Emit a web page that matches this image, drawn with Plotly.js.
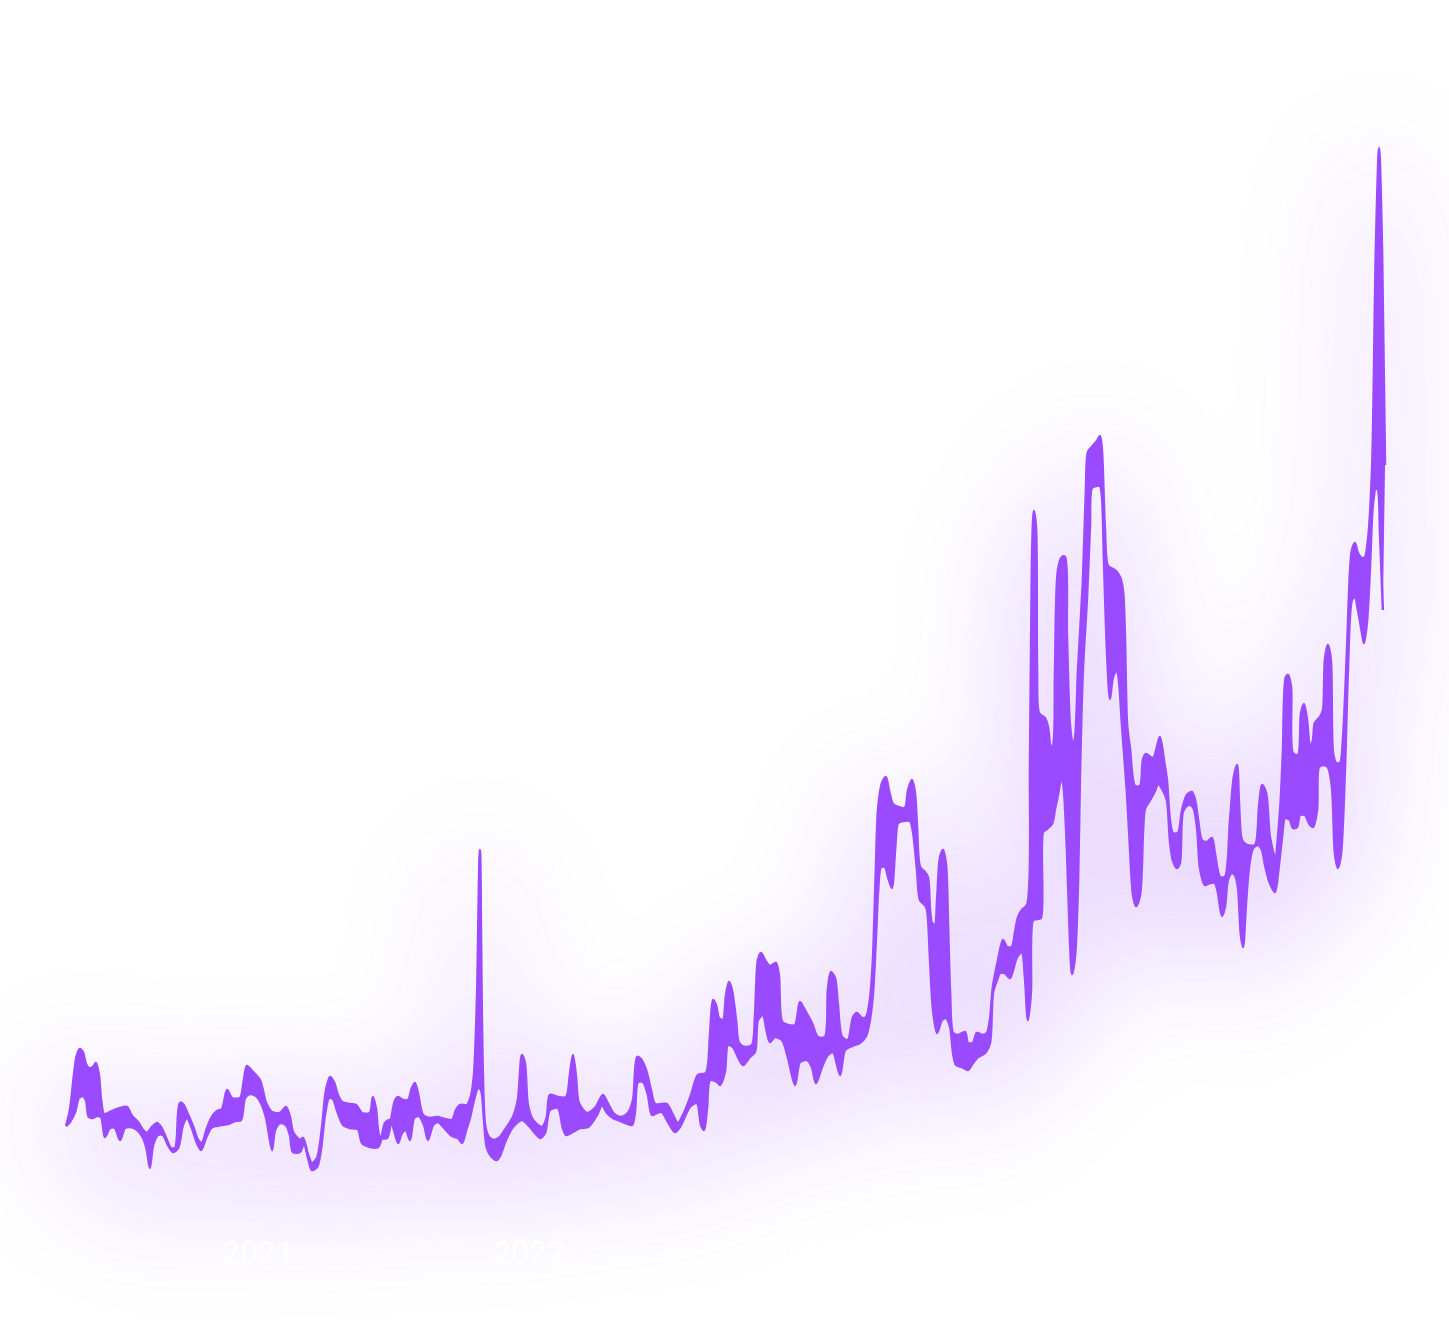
<!DOCTYPE html>
<html>
<head>
<meta charset="utf-8">
<script src="https://cdn.plot.ly/plotly-3.0.1.min.js"></script>
<style>
  html, body { margin: 0; padding: 0; background: #ffffff; }
  #wrap { position: relative; width: 1449px; height: 1344px; overflow: hidden; background: #ffffff; }
  #glow, #chart { position: absolute; left: 0; top: 0; width: 1449px; height: 1344px; }
  #glow { filter: blur(60px); opacity: 0.22; transform: translateY(30px); }
</style>
</head>
<body>
<div id="wrap">
  <div id="glow"></div>
  <div id="chart"></div>
</div>
<script>
// Upper boundary of the band: [decimal year, value]
const upperBand = [
[2020.292,7.4],[2020.306,9.0],[2020.321,12.5],[2020.332,14.5],[2020.343,15.1],[2020.354,14.8],[2020.365,13.6],[2020.376,13.2],[2020.391,13.3],[2020.402,13.7],
[2020.413,12.5],[2020.421,10.0],[2020.432,8.6],[2020.454,8.8],[2020.480,9.1],[2020.506,9.3],[2020.517,9.3],[2020.535,8.4],[2020.557,7.8],[2020.576,7.0],
[2020.590,6.7],[2020.609,7.3],[2020.627,7.7],[2020.642,7.3],[2020.661,6.2],[2020.679,5.2],[2020.694,5.2],[2020.705,8.5],[2020.712,9.7],[2020.723,9.6],
[2020.738,8.8],[2020.760,7.4],[2020.779,6.0],[2020.793,5.7],[2020.812,7.2],[2020.830,8.3],[2020.849,8.9],[2020.867,9.1],[2020.886,11.0],[2020.904,10.2],
[2020.934,10.2],[2020.948,12.0],[2020.959,13.4],[2020.978,12.9],[2021.007,12.0],
[2021.030,9.7],[2021.052,8.8],[2021.081,8.7],[2021.103,9.3],[2021.118,8.3],[2021.129,6.8],[2021.155,6.0],[2021.166,6.2],[2021.185,4.5],[2021.199,3.7],
[2021.218,4.2],[2021.236,7.2],[2021.251,11.0],[2021.266,12.3],[2021.280,11.8],[2021.295,10.5],[2021.310,9.8],[2021.339,9.6],[2021.362,9.5],[2021.384,8.7],
[2021.413,8.7],[2021.424,10.3],[2021.435,9.2],[2021.450,6.3],[2021.476,6.2],[2021.491,8.0],[2021.506,10.0],[2021.517,10.3],[2021.535,10.0],[2021.554,10.0],
[2021.568,11.2],[2021.579,11.7],[2021.590,10.7],[2021.609,8.5],[2021.635,8.2],[2021.661,8.3],[2021.690,8.1],[2021.716,8.0],[2021.731,9.0],[2021.745,9.5],
[2021.771,9.5],[2021.786,10.4],[2021.797,12.5],[2021.808,20.0],[2021.819,35.0],[2021.838,7.5],[2021.852,6.3],[2021.871,6.0],[2021.893,6.3],[2021.911,7.0],
[2021.941,8.3],[2021.959,10.0],[2021.974,14.5],[2021.985,13.7],[2021.996,9.5],[2022.015,8.0],[2022.048,7.3],[2022.066,8.3],[2022.077,10.5],[2022.107,10.3],
[2022.137,10.3],[2022.151,12.5],[2022.162,14.5],[2022.173,12.5],[2022.184,9.7],[2022.214,8.7],[2022.244,9.2],[2022.273,10.5],[2022.292,9.6],[2022.314,8.6],
[2022.339,8.3],[2022.365,8.7],[2022.384,10.0],[2022.399,14.3],[2022.413,14.1],[2022.432,13.0],[2022.450,11.0],[2022.465,9.6],[2022.491,9.6],[2022.509,9.6],
[2022.531,8.5],[2022.550,7.7],[2022.572,8.7],[2022.598,10.5],[2022.624,12.5],[2022.653,12.7],[2022.668,16.5],[2022.679,20.0],[2022.690,19.5],[2022.701,18.2],
[2022.716,18.0],[2022.727,20.5],[2022.738,21.8],[2022.749,21.0],[2022.764,18.0],[2022.775,15.7],[2022.797,15.3],[2022.823,15.5],[2022.834,18.5],[2022.845,24.0],
[2022.856,24.7],[2022.871,24.0],[2022.889,23.4],[2022.911,23.7],[2022.922,22.5],[2022.934,17.8],[2022.956,17.5],[2022.982,17.5],[2023.000,19.8],[2023.018,19.0],
[2023.044,17.7],[2023.066,16.3],[2023.092,16.3],[2023.103,21.0],[2023.114,22.8],[2023.129,22.2],[2023.140,19.5],[2023.155,16.3],[2023.177,16.0],[2023.196,18.3],
[2023.210,18.7],[2023.229,18.2],[2023.244,18.3],[2023.258,20.0],[2023.269,24.0],[2023.280,33.0],[2023.288,39.0],[2023.303,41.7],[2023.317,42.3],[2023.328,41.0],
[2023.343,39.6],[2023.362,39.3],[2023.387,39.2],[2023.399,41.0],[2023.413,42.0],[2023.424,40.8],[2023.432,37.3],[2023.443,33.3],[2023.461,32.8],[2023.472,32.3],
[2023.480,29.0],[2023.487,27.7],[2023.498,27.5],[2023.506,30.0],[2023.517,34.3],[2023.528,35.0],[2023.539,33.5],[2023.546,28.0],[2023.554,20.7],[2023.565,16.7],
[2023.583,16.5],[2023.609,16.8],[2023.620,15.7],[2023.638,15.7],[2023.653,16.7],[2023.675,16.5],[2023.690,16.7],[2023.701,18.0],[2023.712,21.3],[2023.731,24.0],
[2023.749,26.0],[2023.764,25.3],[2023.782,25.3],[2023.793,26.7],[2023.804,28.2],[2023.819,29.0],[2023.838,29.5],[2023.849,44.0],[2023.856,64.0],[2023.863,68.9],
[2023.871,67.3],[2023.875,53.0],[2023.882,48.7],[2023.904,48.2],[2023.915,47.3],[2023.926,45.3],[2023.934,45.5],[2023.941,53.0],[2023.952,63.0],[2023.967,64.3],
[2023.978,64.3],[2023.985,56.6],[2023.996,47.6],[2024.007,45.5],[2024.015,46.2],[2024.026,53.0],[2024.044,61.9],[2024.055,70.9],[2024.063,74.8],[2024.077,75.3],
[2024.096,75.9],[2024.107,76.4],[2024.114,75.1],[2024.125,67.3],[2024.137,63.4],[2024.162,63.0],[2024.181,62.3],[2024.192,60.9],[2024.199,56.6],[2024.207,47.6],
[2024.218,45.1],[2024.236,41.4],[2024.255,41.4],[2024.266,44.1],[2024.277,44.6],[2024.303,44.2],[2024.328,46.3],[2024.343,44.0],[2024.354,42.0],[2024.365,38.0],
[2024.376,36.7],[2024.395,36.7],[2024.410,39.0],[2024.428,40.5],[2024.446,40.8],[2024.458,40.0],[2024.469,38.0],[2024.483,36.0],[2024.502,35.8],[2024.520,36.2],
[2024.531,34.7],[2024.550,32.3],[2024.568,32.3],[2024.587,38.0],[2024.601,42.3],[2024.613,43.5],[2024.620,39.7],[2024.631,36.0],[2024.649,35.5],[2024.679,35.5],
[2024.694,39.3],[2024.705,41.5],[2024.720,40.7],[2024.734,36.3],[2024.753,34.3],[2024.771,38.7],[2024.782,44.7],[2024.793,52.3],[2024.801,52.5],[2024.812,51.3],
[2024.819,44.7],[2024.838,44.5],[2024.849,48.7],[2024.860,49.6],[2024.871,48.0],[2024.882,45.3],[2024.893,46.0],[2024.900,47.7],[2024.919,48.3],[2024.930,49.0],
[2024.937,54.0],[2024.948,55.5],[2024.959,54.0],[2024.967,44.7],[2024.978,43.7],[2024.993,43.7],[2025.004,46.3],[2025.018,54.7],[2025.030,63.0],[2025.037,65.0],
[2025.048,65.7],[2025.059,64.7],[2025.074,64.2],[2025.085,64.3],[2025.096,66.0],[2025.111,73.0],[2025.125,95.0],[2025.137,105.2],[2025.148,95.0],[2025.159,73.5]
];

// Lower boundary of the band: [decimal year, value]
const lowerBand = [
[2020.292,7.4],[2020.306,7.8],[2020.325,8.8],[2020.339,10.2],[2020.354,10.4],[2020.365,10.0],[2020.376,8.3],[2020.391,8.2],[2020.406,8.4],[2020.421,8.3],
[2020.435,6.3],[2020.454,7.2],[2020.472,7.2],[2020.491,6.0],[2020.509,7.2],[2020.528,7.3],[2020.554,7.0],[2020.576,6.2],[2020.590,5.0],[2020.601,3.2],
[2020.613,5.5],[2020.631,6.5],[2020.649,6.5],[2020.668,5.5],[2020.686,4.8],[2020.705,5.2],[2020.723,7.5],[2020.738,8.2],[2020.756,7.2],[2020.775,5.7],
[2020.790,5.0],[2020.808,6.2],[2020.827,7.2],[2020.845,7.4],[2020.867,7.5],[2020.889,7.6],[2020.915,7.9],[2020.937,8.0],[2020.952,10.2],[2020.970,10.6],
[2020.993,10.4],[2021.011,9.7],[2021.030,8.2],[2021.041,6.5],[2021.052,5.0],[2021.063,7.0],[2021.081,7.7],[2021.103,7.5],[2021.118,6.5],[2021.129,4.8],
[2021.155,4.8],[2021.170,5.7],[2021.185,4.2],[2021.199,3.0],[2021.218,3.3],[2021.232,5.0],[2021.247,8.5],[2021.262,10.2],[2021.277,10.1],[2021.291,9.0],
[2021.314,7.5],[2021.339,7.2],[2021.369,7.1],[2021.384,5.7],[2021.413,5.3],[2021.443,5.3],[2021.454,6.0],[2021.469,7.7],[2021.487,8.0],[2021.502,7.0],
[2021.517,5.7],[2021.531,6.7],[2021.546,7.0],[2021.561,6.0],[2021.576,8.2],[2021.594,8.4],[2021.613,7.5],[2021.627,6.0],[2021.646,7.5],[2021.664,7.8],
[2021.694,7.0],[2021.716,6.4],[2021.738,6.2],[2021.753,5.7],[2021.768,7.0],[2021.782,8.2],[2021.797,10.0],[2021.812,11.2],[2021.823,11.0],[2021.834,8.0],
[2021.845,5.2],[2021.867,4.2],[2021.882,4.0],[2021.893,4.4],[2021.915,6.0],[2021.941,7.3],[2021.974,8.0],[2022.004,7.3],[2022.022,6.7],[2022.041,6.2],
[2022.059,6.7],[2022.077,9.0],[2022.107,9.2],[2022.125,7.2],[2022.137,6.5],[2022.162,6.8],[2022.188,7.2],[2022.218,7.3],[2022.251,8.5],[2022.269,9.5],
[2022.288,8.7],[2022.310,8.2],[2022.347,7.8],[2022.380,7.5],[2022.391,8.8],[2022.402,11.8],[2022.421,11.8],[2022.439,10.5],[2022.454,8.5],[2022.472,8.7],
[2022.491,8.8],[2022.509,8.0],[2022.539,6.8],[2022.557,7.3],[2022.594,9.3],[2022.620,9.7],[2022.635,7.5],[2022.646,7.0],[2022.657,9.2],[2022.668,12.0],
[2022.694,11.8],[2022.705,11.5],[2022.723,12.8],[2022.734,15.5],[2022.753,15.3],[2022.771,14.3],[2022.790,13.5],[2022.815,14.3],[2022.834,14.8],[2022.845,18.0],
[2022.863,18.5],[2022.878,16.8],[2022.889,15.8],[2022.908,16.3],[2022.934,16.0],[2022.956,14.2],[2022.982,11.5],[2023.000,13.8],[2023.026,14.0],[2023.044,13.3],
[2023.059,11.7],[2023.081,13.3],[2023.103,14.5],[2023.122,14.8],[2023.148,12.5],[2023.166,15.0],[2023.192,15.4],[2023.221,15.7],[2023.244,16.4],[2023.258,18.0],
[2023.269,20.5],[2023.280,26.0],[2023.288,30.7],[2023.299,33.3],[2023.314,33.3],[2023.325,32.3],[2023.339,31.2],[2023.351,35.0],[2023.362,37.7],[2023.380,37.9],
[2023.406,37.9],[2023.417,36.8],[2023.432,33.0],[2023.443,30.0],[2023.461,29.5],[2023.469,29.0],[2023.480,24.0],[2023.491,19.0],[2023.506,16.7],[2023.524,18.0],
[2023.539,18.2],[2023.554,17.3],[2023.565,14.7],[2023.576,13.5],[2023.598,13.3],[2023.620,13.0],[2023.638,13.7],[2023.657,14.3],[2023.683,14.7],[2023.701,15.7],
[2023.712,20.7],[2023.727,22.0],[2023.738,22.7],[2023.756,22.7],[2023.775,22.2],[2023.786,23.0],[2023.801,24.3],[2023.819,24.8],[2023.830,22.3],[2023.841,18.0],
[2023.852,20.7],[2023.860,28.0],[2023.875,28.1],[2023.889,28.2],[2023.897,36.8],[2023.911,37.1],[2023.930,37.6],[2023.941,39.1],[2023.952,40.5],[2023.959,41.6],
[2023.967,42.3],[2023.974,41.0],[2023.985,35.1],[2023.996,26.2],[2024.004,22.6],[2024.015,24.4],[2024.026,31.6],[2024.033,42.3],[2024.044,53.0],[2024.059,60.1],
[2024.070,67.3],[2024.077,71.2],[2024.092,71.4],[2024.107,71.4],[2024.114,70.5],[2024.122,63.7],[2024.133,54.8],[2024.144,50.1],[2024.155,52.3],[2024.170,53.0],
[2024.177,52.0],[2024.188,47.6],[2024.207,40.5],[2024.218,35.1],[2024.229,30.5],[2024.240,29.4],[2024.255,30.5],[2024.266,36.9],[2024.273,39.1],[2024.292,40.0],
[2024.310,40.9],[2024.321,41.6],[2024.339,41.0],[2024.354,40.0],[2024.365,36.0],[2024.376,34.0],[2024.391,33.2],[2024.402,33.7],[2024.413,38.8],[2024.432,39.5],
[2024.450,39.3],[2024.465,37.3],[2024.476,33.2],[2024.494,31.5],[2024.513,31.7],[2024.531,31.7],[2024.542,30.8],[2024.557,28.4],[2024.568,29.3],[2024.579,32.0],
[2024.594,32.7],[2024.605,32.5],[2024.616,31.3],[2024.627,26.5],[2024.635,25.3],[2024.646,29.7],[2024.657,33.3],[2024.672,35.2],[2024.690,35.5],[2024.705,35.0],
[2024.716,33.5],[2024.734,31.7],[2024.753,30.8],[2024.764,32.7],[2024.779,36.3],[2024.790,38.2],[2024.808,38.0],[2024.819,37.2],[2024.834,37.3],[2024.845,38.5],
[2024.863,38.5],[2024.882,37.5],[2024.893,37.3],[2024.908,39.0],[2024.915,43.3],[2024.930,43.5],[2024.948,43.3],[2024.963,41.3],[2024.974,34.7],[2024.985,33.2],
[2024.996,34.5],[2025.011,43.0],[2025.022,53.0],[2025.037,60.0],[2025.048,60.3],[2025.059,59.0],[2025.074,56.7],[2025.081,55.7],[2025.092,57.7],[2025.103,63.0],
[2025.114,69.5],[2025.125,71.2],[2025.133,71.0],[2025.140,67.0],[2025.151,59.0]
];

const tickYears = [2021, 2022, 2023, 2024, 2025];
const tickLabels = ['2021', '2022', '2023', '2024', '2025'];

const bandColor = '#9a4aff';

function bandTraces(lineWidth) {
  const lineStyle = { shape: 'spline', smoothing: 0.8, color: bandColor, width: lineWidth };
  return [
    { x: lowerBand.map(p => p[0]), y: lowerBand.map(p => p[1]), type: 'scatter', mode: 'lines',
      line: lineStyle, hoverinfo: 'skip', showlegend: false },
    { x: upperBand.map(p => p[0]), y: upperBand.map(p => p[1]), type: 'scatter', mode: 'lines',
      line: lineStyle, fill: 'tonexty', fillcolor: bandColor, hoverinfo: 'skip', showlegend: false }
  ];
}

function baseLayout(showTicks) {
  return {
    width: 1449, height: 1344,
    margin: { l: 0, r: 0, t: 0, b: 114 },
    paper_bgcolor: 'rgba(0,0,0,0)',
    plot_bgcolor: 'rgba(0,0,0,0)',
    showlegend: false,
    xaxis: {
      type: 'linear',
      range: [2020.048, 2025.395],
      tickmode: 'array', tickvals: tickYears, ticktext: tickLabels,
      showticklabels: showTicks,
      tickfont: { family: 'Roboto', size: 32, color: '#ffffff' },
      showgrid: false, zeroline: false, showline: false, ticks: ''
    },
    yaxis: {
      range: [-3.0, 120],
      visible: false, showgrid: false, zeroline: false
    }
  };
}

const cfg = { staticPlot: true, displayModeBar: false };
Plotly.newPlot('glow', bandTraces(40), baseLayout(false), cfg);
Plotly.newPlot('chart', bandTraces(2.5), baseLayout(true), cfg);
</script>
</body>
</html>
